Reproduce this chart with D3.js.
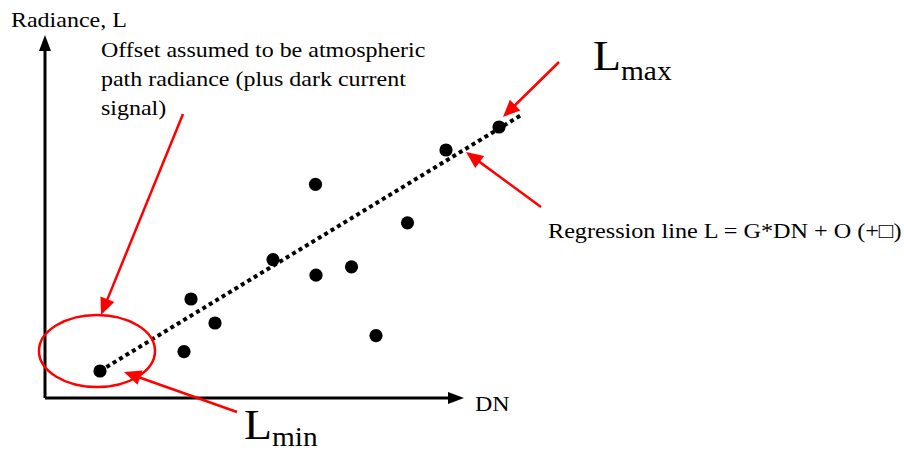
<!DOCTYPE html>
<html>
<head>
<meta charset="utf-8">
<script src="https://cdn.jsdelivr.net/npm/d3@7"></script>
<style>
    body { margin: 0; background: #fff; }
    text { font-family: "Liberation Serif", "Times New Roman", serif; fill: #000; }
</style>
</head>
<body>
<div id="chart"></div>
<script>
// scatter of calibration samples (DN vs radiance, arbitrary units)
var dnValues = [11, 27.8, 29.2, 34, 45.6, 54.1, 54.2, 61.3, 66.2, 72.5, 80.2, 90.8];
var radValues = [6.75, 11.6, 24.75, 18.75, 34.6, 53.4, 30.7, 32.8, 15.6, 43.8, 62, 67.75];

// regression L = G*DN + O, drawn between these DN values
var gain = 0.7595;
var offset = -1.6;
var lineRange = [11, 95.6];

var axisMax = [83.8, 90.75];   // DN, radiance at arrow tips

var offsetLines = ["Offset assumed to be atmospheric", "path radiance (plus dark current", "signal)"];
var regressionLabel = "Regression line L = G*DN + O (+\u25A1)";

(function () {
    var W = 904, H = 451;
    var svg = d3.select("#chart")
        .append("svg")
        .attr("width", W)
        .attr("height", H);

    var x = d3.scaleLinear().domain([0, 100]).range([45, 545]);
    var y = d3.scaleLinear().domain([0, 100]).range([398, -2]);

    var stretch = 1.09;

    function label(px, py, size, sx) {
        return svg.append("text")
            .attr("transform", "translate(" + px + "," + py + ") scale(" + (sx || stretch) + ",1)")
            .style("font-size", size + "px");
    }

    function arrowHead(tip, from, len, half, color) {
        var dx = tip[0] - from[0], dy = tip[1] - from[1];
        var d = Math.sqrt(dx * dx + dy * dy);
        var ux = dx / d, uy = dy / d;
        var bx = tip[0] - ux * len, by = tip[1] - uy * len;
        var pts = [tip, [bx - uy * half, by + ux * half], [bx + uy * half, by - ux * half]];
        svg.append("path")
            .attr("d", "M" + pts.join("L") + "Z")
            .attr("fill", color);
    }

    function arrow(from, tip, color, width, len, half) {
        var dx = tip[0] - from[0], dy = tip[1] - from[1];
        var d = Math.sqrt(dx * dx + dy * dy);
        svg.append("line")
            .attr("x1", from[0])
            .attr("y1", from[1])
            .attr("x2", tip[0] - dx / d * (len - 2))
            .attr("y2", tip[1] - dy / d * (len - 2))
            .attr("stroke", color)
            .attr("stroke-width", width);
        arrowHead(tip, from, len, half, color);
    }

    // axes
    var origin = [x(0), y(0)];
    arrow(origin, [x(axisMax[0]), y(0)], "#000", 3, 16, 6);
    arrow(origin, [x(0), y(axisMax[1])], "#000", 3, 16, 6);

    // regression line
    svg.append("line")
        .attr("x1", x(lineRange[0]))
        .attr("y1", y(gain * lineRange[0] + offset))
        .attr("x2", x(lineRange[1]))
        .attr("y2", y(gain * lineRange[1] + offset))
        .attr("stroke", "#000")
        .attr("stroke-width", 4)
        .attr("stroke-dasharray", "4,3.5");

    // points
    svg.selectAll("circle.pt")
        .data(dnValues)
        .enter()
        .append("circle")
        .attr("class", "pt")
        .attr("cx", function (d) { return x(d); })
        .attr("cy", function (d, i) { return y(radValues[i]); })
        .attr("r", 6.6)
        .attr("fill", "#000");

    // red annotations
    var red = "#ff0000";
    svg.append("ellipse")
        .attr("cx", 97)
        .attr("cy", 351)
        .attr("rx", 58)
        .attr("ry", 36)
        .attr("fill", "none")
        .attr("stroke", red)
        .attr("stroke-width", 2.5);

    arrow([183, 114], [101, 315], red, 2.5, 17, 7.5);
    arrow([559, 62], [503, 117], red, 2.5, 17, 7.5);
    arrow([541, 207], [466, 152], red, 2.5, 17, 7.5);
    arrow([237, 412], [124, 372], red, 2.5, 17, 7.5);

    // text
    label(11, 27, 22).text("Radiance, L");
    label(475, 411, 22).text("DN");

    offsetLines.forEach(function (t, i) {
        label(101, 57 + i * 29, 22).text(t);
    });

    label(548, 238, 22, 1.1).text(regressionLabel);

    var lmax = label(593, 70, 42);
    lmax.append("tspan").text("L");
    lmax.append("tspan").attr("dy", 10).style("font-size", "27px").text("max");

    var lmin = label(244, 439, 42);
    lmin.append("tspan").text("L");
    lmin.append("tspan").attr("dy", 7).style("font-size", "27px").text("min");
}())
</script>
</body>
</html>
